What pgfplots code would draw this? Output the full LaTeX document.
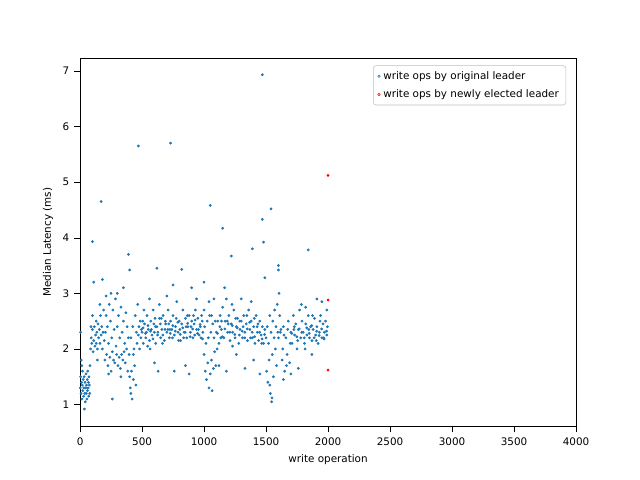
\documentclass[border=0pt]{standalone}
\usepackage{pgfplots}
\pgfplotsset{compat=1.18}
\usepackage{fontspec}
\setmainfont{DejaVu Sans}
\begin{document}
\begin{tikzpicture}
\begin{axis}[scale only axis, width=358pt, height=266pt,
 xmin=0, xmax=4000, ymin=0.605, ymax=7.23,
 xtick={0,500,...,4000}, ytick={1,...,7},
 tick align=outside, tick style={black}, xtick pos=bottom, ytick pos=left,
 /pgf/number format/assume math mode=true,
 /pgf/number format/1000 sep={},
 ticklabel style={font=\fontsize{7.5}{9}\selectfont}, label style={font=\fontsize{7.5}{9}\selectfont},
 xlabel={write operation}, ylabel={Median Latency (ms)},
 legend style={at={(0.98,0.98)},anchor=north east, font=\fontsize{7.5}{9}\selectfont, draw=gray!50, rounded corners=2pt, row sep=2pt},
 legend cell align=left,
 legend image code/.code={\draw[#1] (0.15cm,0cm) circle (0.9pt);},
 name=ax]
\addplot[only marks, mark=*, mark size=0.8pt, color={rgb,255:red,31;green,119;blue,180}] coordinates {
(2,1.3)(5,1.5)(8,1.2)(10,1.8)(12,1.4)(15,1.1)(18,1.35)(20,1.6)(22,1.25)(25,1.45)(28,1.15)(30,1.3)(33,1.5)(35,0.92)(38,1.2)(40,1.4)(42,1.05)(45,1.3)(48,1.55)(50,1.2)(52,1.35)(55,1.1)(58,1.45)(60,1.25)(62,1.6)(65,1.3)(68,1.4)(70,1.15)(72,1.5)(75,1.35)(78,1.2)(80,1.7)(4,2.3)(14,1.7)
(85,2.0)(90,2.2)(95,2.1)(100,2.35)(105,1.95)(110,2.15)(115,2.4)(120,2.05)(125,2.25)(130,2.1)(135,2.3)(140,2.0)(145,2.45)(150,2.2)(155,2.35)(160,2.1)(165,2.6)(170,2.25)(175,2.4)(180,2.0)(185,2.3)(190,2.7)(195,2.15)(100,2.6)(130,2.5)(160,2.8)(88,2.4)(140,1.8)
(200,1.8)(205,2.3)(210,2.6)(215,1.9)(220,2.4)(225,1.7)(230,2.1)(235,2.8)(240,1.85)(245,2.5)(250,1.6)(255,2.2)(260,1.95)(265,2.7)(270,1.8)(275,2.35)(280,1.75)(285,2.9)(290,2.05)(295,1.9)(300,2.4)(305,1.7)(310,2.6)(315,1.85)(320,2.2)(325,1.65)(330,2.75)(335,1.9)(340,2.3)(345,1.8)(350,2.5)(355,1.95)(360,2.1)(365,1.75)(370,2.65)(375,2.0)(380,2.4)(385,1.6)(390,2.2)(395,1.9)(230,1.55)(260,1.1)(300,3.0)(330,1.5)(210,2.95)
(400,1.5)(405,1.3)(410,2.2)(415,1.6)(420,1.1)(425,2.4)(430,1.45)(435,2.0)(440,1.7)(445,2.6)(450,1.35)(455,2.3)(460,2.1)(465,2.8)(470,2.25)(475,2.4)(480,2.0)(485,2.5)(490,2.2)(495,2.35)(410,1.2)(430,1.9)
(500,2.3)(510,2.1)(520,2.45)(530,2.2)(540,2.6)(550,2.35)(560,2.15)(570,2.5)(580,2.25)(590,2.7)(600,2.3)(610,2.1)(620,2.4)(630,1.6)(640,2.55)(650,2.2)(660,2.35)(670,2.6)(680,2.15)(690,2.45)(700,2.3)(710,2.7)(720,2.2)(730,2.5)(740,2.35)(750,2.6)(760,2.25)(770,2.4)(780,2.85)(790,2.3)(800,2.5)(810,2.15)(820,2.45)(830,2.7)(840,2.3)(850,2.55)(860,2.2)(870,2.4)(880,2.6)(890,2.3)(900,2.5)(910,2.2)(920,2.45)(930,2.7)(940,2.35)(950,2.55)(960,2.25)(970,2.4)(980,2.6)(990,2.3)
(505,2.5)(535,2.3)(565,2.0)(595,2.45)(625,2.25)(655,2.55)(685,2.35)(715,2.45)(745,2.2)(775,2.55)(805,2.35)(835,2.2)(865,2.6)(895,2.4)(925,2.25)(955,2.35)(985,2.5)(560,2.9)(640,2.8)(700,2.95)(600,1.75)(760,1.6)(850,1.7)(940,2.9)(880,1.55)(515,2.7)(545,2.05)(575,2.35)(605,2.55)(665,2.1)(725,2.35)(795,2.15)(855,2.4)(915,2.6)(975,2.2)
(508,2.38)(528,2.28)(548,2.42)(568,2.32)(588,2.18)(608,2.4)(628,2.3)(648,2.45)(668,2.25)(688,2.5)(708,2.35)(728,2.28)(748,2.42)(768,2.32)(788,2.48)(808,2.26)(828,2.38)(848,2.3)(868,2.46)(888,2.22)(908,2.36)(928,2.52)(948,2.28)(968,2.44)(988,2.18)
(1000,1.9)(1005,2.4)(1010,1.6)(1015,2.1)(1020,1.45)(1025,2.5)(1030,1.75)(1035,2.2)(1040,1.3)(1045,2.6)(1050,1.55)(1055,2.3)(1060,1.8)(1065,1.25)(1070,2.45)(1075,1.65)(1080,2.2)(1085,1.95)(1090,2.5)(1095,1.7)(1000,2.7)(1040,2.85)(1060,2.6)(1080,2.9)
(1100,2.3)(1110,2.5)(1120,2.1)(1130,2.6)(1140,2.35)(1150,2.75)(1160,2.2)(1170,2.5)(1180,2.9)(1190,2.3)(1200,2.6)(1210,2.15)(1220,2.45)(1230,2.3)(1240,2.7)(1250,2.2)(1260,2.4)(1270,2.55)(1280,2.1)(1290,2.35)(1300,2.5)(1310,2.2)(1320,2.6)(1330,2.3)(1340,2.45)(1350,2.15)(1360,2.7)(1370,2.35)(1380,2.5)(1390,2.2)(1400,2.4)(1410,2.1)(1420,2.6)(1430,2.3)(1440,2.15)(1450,2.5)(1460,2.25)(1470,2.4)(1480,2.1)(1490,2.35)
(1108,2.28)(1128,2.4)(1148,2.22)(1168,2.36)(1188,2.5)(1208,2.3)(1228,2.42)(1248,2.26)(1268,2.38)(1288,2.5)(1308,2.32)(1328,2.2)(1348,2.36)(1368,2.48)(1388,2.3)(1408,2.22)(1428,2.4)(1448,2.3)(1468,2.18)(1488,2.26)
(1105,2.0)(1135,2.2)(1165,3.1)(1195,2.45)(1225,2.8)(1255,2.55)(1285,2.25)(1315,2.4)(1345,2.6)(1375,2.2)(1405,2.55)(1435,2.45)(1465,2.1)(1120,1.7)(1180,1.6)(1260,1.9)(1330,1.65)(1400,1.8)(1450,1.55)(1300,2.9)(1380,2.85)(1140,2.5)(1230,2.05)
(1500,2.2)(1505,1.6)(1510,2.4)(1515,1.4)(1520,2.1)(1525,1.8)(1530,2.6)(1535,1.2)(1540,2.3)(1545,1.05)(1550,1.9)(1555,2.5)(1560,1.5)(1565,2.2)(1570,2.7)(1575,2.0)(1580,2.4)(1585,1.7)(1590,2.8)(1595,2.3)(1548,1.12)(1530,1.35)
(1600,2.2)(1610,2.6)(1620,2.35)(1630,1.8)(1640,2.4)(1650,1.6)(1660,2.2)(1670,1.9)(1680,2.5)(1690,1.75)(1700,2.3)(1710,2.1)(1720,2.6)(1730,2.25)(1740,2.45)(1750,2.0)(1760,2.35)(1770,2.7)(1780,2.2)(1790,2.5)(1800,2.3)(1810,2.1)(1820,2.45)(1830,2.25)(1840,2.6)(1850,2.2)(1860,2.4)(1870,2.15)(1880,2.35)(1890,2.55)(1900,2.25)(1910,2.4)(1920,2.1)(1930,2.3)(1940,2.6)(1950,2.2)(1960,2.45)(1970,2.3)(1980,2.5)(1990,2.25)
(1708,2.28)(1728,2.4)(1748,2.22)(1768,2.36)(1788,2.3)(1808,2.2)(1828,2.38)(1848,2.28)(1868,2.42)(1888,2.2)(1908,2.32)(1928,2.24)(1948,2.36)(1968,2.18)(1988,2.32)(1615,2.3)(1645,2.25)(1675,2.35)
(1605,3.0)(1635,2.0)(1665,1.7)(1695,2.1)(1725,2.35)(1755,2.15)(1785,2.8)(1815,2.0)(1845,2.35)(1875,2.6)(1905,2.15)(1935,2.5)(1965,2.2)(1995,2.4)(1700,1.55)(1760,1.65)(1870,1.9)(1910,2.9)(1950,2.85)(1990,2.7)(1820,2.75)(1640,1.45)
(1470,6.93)(470,5.65)(730,5.7)(170,4.65)(1050,4.58)(1540,4.52)(1150,4.17)(100,3.93)(1480,3.92)(390,3.7)(1220,3.67)(1470,4.33)(1840,3.78)(620,3.45)(820,3.43)(400,3.42)(1600,3.5)(1600,3.42)(1490,3.28)(110,3.2)(180,3.25)(1390,3.8)(1000,3.2)(900,3.1)(750,3.15)(350,3.1)(250,3.0)
};
\addlegendentry{write ops by original leader}
\addplot[only marks, mark=*, mark size=0.8pt, red] coordinates {(2000,5.12)(2000,2.88)(2000,1.62)};
\addlegendentry{write ops by newly elected leader}
\end{axis}
\useasboundingbox ([shift={(-57.8pt,-38.3pt)}]ax.south west) rectangle ([shift={(46.2pt,41.9pt)}]ax.north east);
\end{tikzpicture}
\end{document}
